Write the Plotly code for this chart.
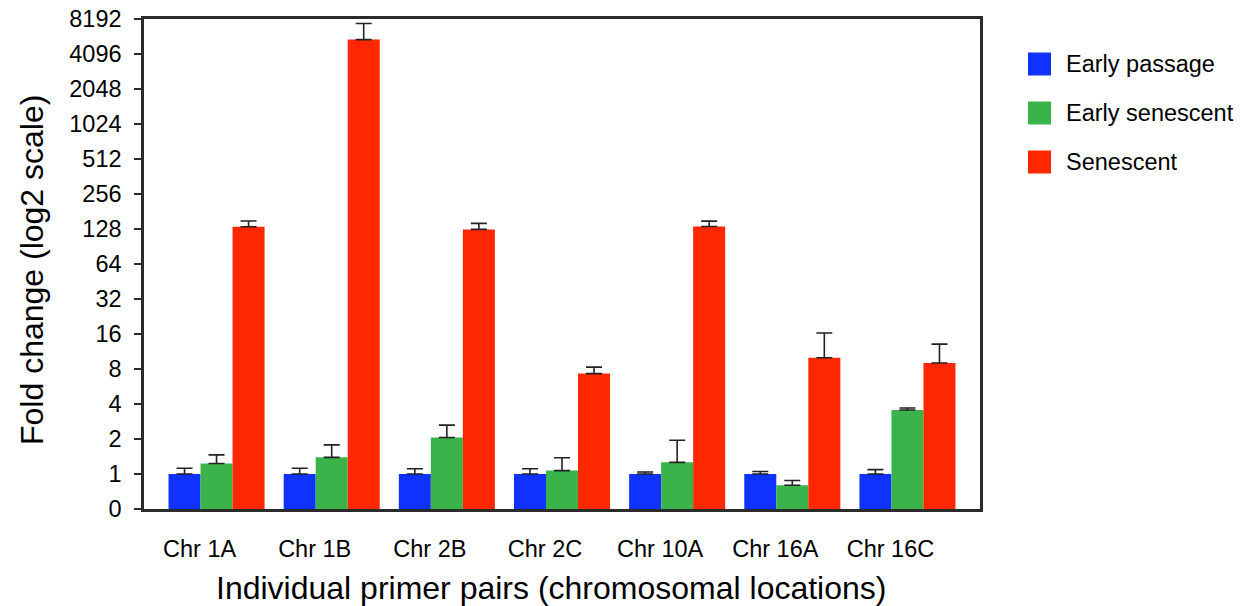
import math
import plotly.graph_objects as go

# Primer pairs on the x axis
categories = ["Chr 1A", "Chr 1B", "Chr 2B", "Chr 2C", "Chr 10A", "Chr 16A", "Chr 16C"]

# Series names and fill colours
series_names = ["Early passage", "Early senescent", "Senescent"]
series_colors = ["#0F32FF", "#3AB34A", "#FF2700"]

# Mean fold change per primer pair
early_passage = [1.0, 1.0, 1.0, 1.0, 1.0, 1.0, 1.0]
early_senescent = [1.23, 1.39, 2.06, 1.07, 1.26, 0.80, 3.55]
senescent = [134, 5450, 127, 7.3, 134.6, 10.0, 9.0]

# Upper error (added on top of the mean)
early_passage_err = [0.12, 0.12, 0.11, 0.11, 0.04, 0.05, 0.09]
early_senescent_err = [0.23, 0.39, 0.57, 0.31, 0.69, 0.08, 0.15]
senescent_err = [16, 2040, 16, 1.0, 15, 6.3, 4.1]

# log2 tick positions; the bottom of the axis is labelled 0
tick_values = [0.5, 1, 2, 4, 8, 16, 32, 64, 128, 256, 512, 1024, 2048, 4096, 8192]
tick_labels = ["0", "1", "2", "4", "8", "16", "32", "64", "128", "256", "512",
               "1024", "2048", "4096", "8192"]

FONT = "Liberation Sans, Arial, Helvetica, sans-serif"
AXIS_COLOR = "#2b2b2b"

values = [early_passage, early_senescent, senescent]
errors = [early_passage_err, early_senescent_err, senescent_err]

fig = go.Figure()
for name, color, vals, errs in zip(series_names, series_colors, values, errors):
    fig.add_trace(go.Bar(
        x=categories,
        y=vals,
        name=name,
        marker=dict(color=color, line=dict(width=0)),
        error_y=dict(type="data", array=errs, arrayminus=[0] * len(errs),
                     symmetric=False, color="#222222", thickness=1.6, width=8),
        showlegend=False,
    ))

W, H = 1243, 606
L, R, T, B = 144, 263, 19, 97
plot_w = W - L - R
plot_h = H - T - B

# Legend drawn as large swatches with labels to the right of the plot
shapes = []
annotations = []
legend_y_px = [64, 113, 162]
for name, color, ypx in zip(series_names, series_colors, legend_y_px):
    x0 = (1028 - L) / plot_w
    x1 = (1051 - L) / plot_w
    y0 = (H - B - (ypx + 11.5)) / plot_h
    y1 = (H - B - (ypx - 11.5)) / plot_h
    shapes.append(dict(type="rect", xref="paper", yref="paper",
                       x0=x0, x1=x1, y0=y0, y1=y1,
                       fillcolor=color, line=dict(width=0)))
    annotations.append(dict(text=name, xref="paper", yref="paper",
                            x=(1064 - L) / plot_w, y=(H - B - ypx) / plot_h,
                            xanchor="left", yanchor="middle", showarrow=False,
                            font=dict(family=FONT, size=23.5, color="black")))

# Axis titles
annotations.append(dict(text="Individual primer pairs (chromosomal locations)",
                        xref="paper", yref="paper",
                        x=(551 - L) / plot_w, y=(H - B - 588) / plot_h,
                        xanchor="center", yanchor="middle", showarrow=False,
                        font=dict(family=FONT, size=32, color="black")))
annotations.append(dict(text="Fold change (log2 scale)",
                        xref="paper", yref="paper",
                        x=(32 - L) / plot_w, y=(H - B - 270) / plot_h,
                        xanchor="center", yanchor="middle", textangle=-90,
                        showarrow=False,
                        font=dict(family=FONT, size=32, color="black")))

fig.update_layout(
    width=W, height=H,
    margin=dict(l=L, r=R, t=T, b=B, pad=0, autoexpand=False),
    paper_bgcolor="white",
    plot_bgcolor="white",
    barmode="group",
    bargap=0.166,
    bargroupgap=0,
    font=dict(family=FONT, color="black"),
    shapes=shapes,
    annotations=annotations,
)

fig.update_xaxes(
    type="category",
    range=[-0.63, 6.63],
    automargin=False,
    showline=True, linewidth=2.5, linecolor=AXIS_COLOR, mirror=True,
    showgrid=False, zeroline=False,
    ticks="",
    ticklabelstandoff=17,
    ticklabelshift=-17,
    tickfont=dict(family=FONT, size=23.5, color="black"),
)

fig.update_yaxes(
    type="log",
    range=[math.log10(0.5), math.log10(8192)],
    automargin=False,
    tickvals=tick_values,
    ticktext=tick_labels,
    showline=True, linewidth=2.5, linecolor=AXIS_COLOR, mirror=True,
    showgrid=False, zeroline=False,
    ticks="outside", ticklen=7, tickwidth=2, tickcolor=AXIS_COLOR,
    ticklabelstandoff=8,
    tickfont=dict(family=FONT, size=23.5, color="black"),
)

fig.write_html("out.html")
